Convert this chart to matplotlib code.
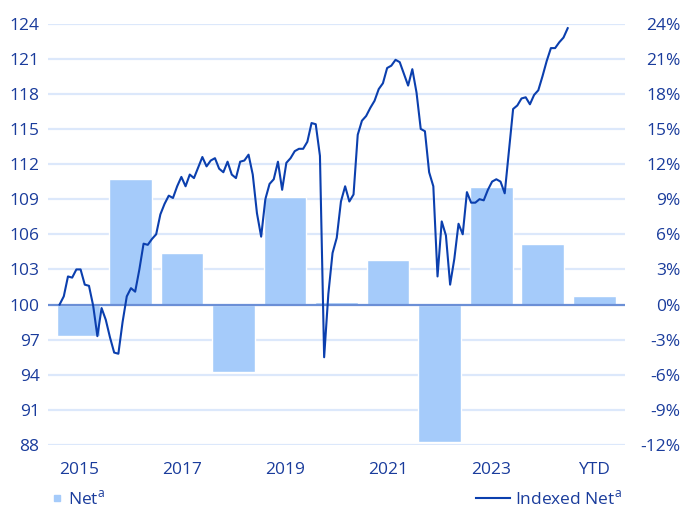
import numpy as np
import matplotlib
matplotlib.use("Agg")
import matplotlib.pyplot as plt
from matplotlib.lines import Line2D

plt.rcParams['font.family'] = ['Open Sans', 'DejaVu Sans']
plt.rcParams['mathtext.fontset'] = 'custom'
plt.rcParams['mathtext.rm'] = 'Open Sans'

# yearly net return (%), plotted on the right axis
years = ['2015', '2016', '2017', '2018', '2019', '2020', '2021', '2022', '2023', '2024', 'YTD']
net_pct = [-2.7, 10.7, 4.4, -5.8, 9.2, 0.2, 3.8, -11.7, 10.0, 5.2, 0.7]
tick_labels = ['2015', '2017', '2019', '2021', '2023', 'YTD']

# indexed net (base 100), roughly monthly
indexed_net = [
    100.0, 100.7, 102.4, 102.3, 103.0, 103.0, 101.7, 101.6, 99.9, 97.3,
    99.7, 98.7, 97.2, 95.9, 95.8, 98.5, 100.7, 101.4, 101.1, 103.0,
    105.2, 105.1, 105.6, 106.0, 107.7, 108.6, 109.3, 109.1, 110.1, 110.9,
    110.1, 111.1, 110.8, 111.7, 112.6, 111.8, 112.3, 112.5, 111.6, 111.3,
    112.2, 111.1, 110.8, 112.2, 112.3, 112.8, 111.1, 107.8, 105.8, 109.0,
    110.3, 110.7, 112.2, 109.8, 112.1, 112.5, 113.1, 113.3, 113.3, 113.9,
    115.5, 115.4, 112.7, 95.5, 100.9, 104.4, 105.7, 108.8, 110.1, 108.8,
    109.4, 114.5, 115.7, 116.1, 116.8, 117.4, 118.4, 118.9, 120.2, 120.4,
    120.9, 120.7, 119.7, 118.7, 120.1, 118.1, 115.0, 114.8, 111.3, 110.1,
    102.4, 107.1, 105.9, 101.7, 103.9, 106.9, 106.0, 109.6, 108.7, 108.7,
    109.0, 108.9, 109.8, 110.5, 110.7, 110.5, 109.5, 113.1, 116.7, 117.0,
    117.6, 117.7, 117.1, 117.9, 118.3, 119.5, 120.8, 121.9, 121.9, 122.4,
    122.8, 123.6,
]

TEXT = '#1a3c9c'
LINE = '#0b3fae'
BAR = '#a5cbfa'
GRID = '#dce8fb'
ZERO = '#6b8fd6'

fig = plt.figure(figsize=(6.84, 5.11), dpi=100)
ax = fig.add_axes([0.070, 0.129, 0.844, 0.825])

x = np.arange(len(years))
yticks = np.arange(88, 125, 3)
for yt in yticks:
    if yt != 100:
        ax.axhline(yt, color=GRID, lw=1.6, zorder=0)

ax.bar(x, net_pct, bottom=100, width=0.83, color=BAR, edgecolor='white',
       linewidth=1.0, zorder=2)
ax.axhline(100, color=ZERO, lw=1.6, zorder=3)

line_x = np.linspace(-0.373, 9.485, len(indexed_net))
ax.plot(line_x, indexed_net, color=LINE, lw=1.5, zorder=4)

ax.set_xlim(-0.6, 10.6)
ax.set_ylim(88, 124)
ax.set_yticks(yticks)
ax.set_yticklabels([str(v) for v in yticks])
ax.set_xticks(x[::2])
ax.set_xticklabels(tick_labels)
ax.tick_params(axis='y', length=0, pad=6, labelsize=12.5, labelcolor=TEXT)
ax.tick_params(axis='x', length=0, pad=12, labelsize=12.5, labelcolor=TEXT)
for s in ax.spines.values():
    s.set_visible(False)

ax2 = ax.twinx()
ax2.set_ylim(88, 124)
ax2.set_yticks(yticks)
ax2.set_yticklabels([f'{v - 100}%' for v in yticks])
ax2.tick_params(axis='y', length=0, pad=40, labelsize=12.5, labelcolor=TEXT)
for lab in ax2.get_yticklabels():
    lab.set_horizontalalignment('right')
for s in ax2.spines.values():
    s.set_visible(False)

h_bar = Line2D([], [], marker='s', ls='none', color=BAR, markersize=4.5)
h_line = Line2D([], [], color=LINE, lw=1.5)
leg1 = fig.legend([h_bar], ['Net$^\\mathregular{a}$'], loc='center left',
                  bbox_to_anchor=(0.062, 0.024), frameon=False, fontsize=12.5,
                  handlelength=0.5, handletextpad=0.35, labelcolor=TEXT,
                  borderpad=0.1)
leg2 = fig.legend([h_line], ['Indexed Net$^\\mathregular{a}$'], loc='center right',
                  bbox_to_anchor=(0.925, 0.024), frameon=False, fontsize=12.5,
                  handlelength=2.0, handletextpad=0.3, labelcolor=TEXT,
                  borderpad=0.1)

fig.savefig('out.png', dpi=100)
